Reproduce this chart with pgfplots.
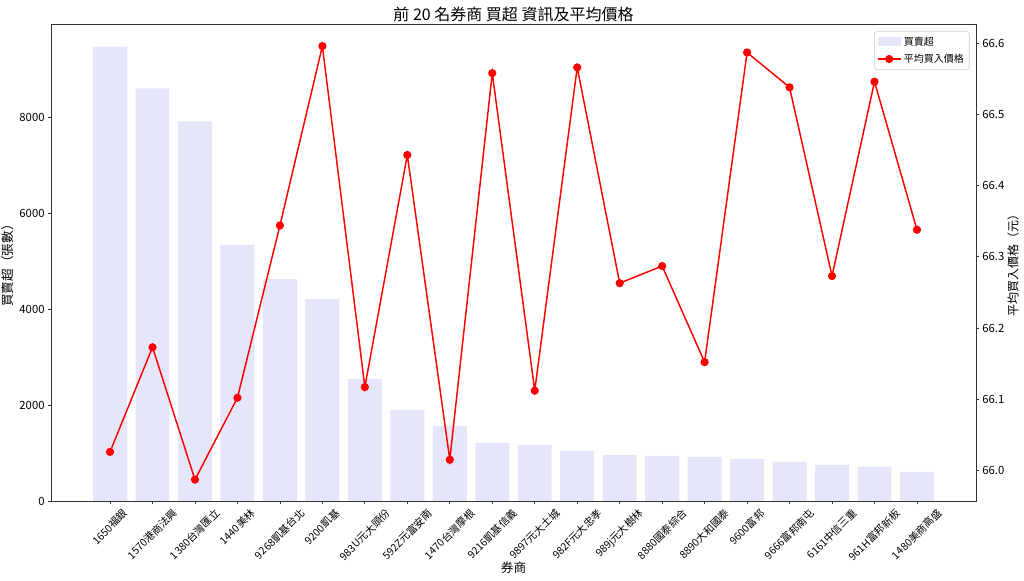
\documentclass[border=0pt]{standalone}
\usepackage{fontspec}
\setmainfont{Noto Sans CJK TC}
\usepackage{graphicx}
\usepackage{pgfplots}
\usepackage{pgfplotstable}
\pgfplotsset{compat=1.18}
\definecolor{lav}{RGB}{230,230,250}

\pgfplotstableread{
x bar price
0 9480 66.026
1 8610 66.173
2 7923 65.987
3 5344 66.102
4 4631 66.344
5 4215 66.596
6 2548 66.117
7 1902 66.443
8 1569 66.015
9 1215 66.558
10 1173 66.112
11 1048 66.566
12 965 66.263
13 944 66.287
14 923 66.152
15 881 66.587
16 819 66.538
17 756 66.273
18 715 66.546
19 610 66.338
}\data

\newcommand{\rl}[1]{\rotatebox{45}{#1}}

\begin{document}
\begin{tikzpicture}
\useasboundingbox (-38.25pt,-60pt) rectangle (729.75pt,375.75pt);
\begin{axis}[
  at={(0,0)}, anchor=south west,
  scale only axis, width=693.75pt, height=357.75pt,
  xmin=-1.39, xmax=20.39, ymin=0, ymax=9954,
  xtick={0,...,19},
  xticklabels={\rl{1650福銀},\rl{1570港商法興},\rl{1380台灣匯立},\rl{1440美林},\rl{9268凱基台北},\rl{9200凱基},\rl{983U元大頭份},\rl{592Z元富安南},\rl{1470台灣摩根},\rl{9216凱基信義},\rl{9897元大土城},\rl{982F元大忠孝},\rl{989j元大樹林},\rl{8880國泰綜合},\rl{8890大和國泰},\rl{9600富邦},\rl{9666富邦南屯},\rl{6161中信三重},\rl{961H富邦新板},\rl{1480美商高盛}},
  xtick pos=left, ytick pos=left,
  ytick={0,2000,4000,6000,8000},
  tick align=outside, major tick length=2.6pt,
  axis line style={draw=black!80, line width=0.6pt},
  tick style={draw=black!80, line width=0.6pt},
  tick label style={font=\fontsize{8.5}{10}\selectfont},
  /pgf/number format/assume math mode=true,
  /pgf/number format/1000 sep={},
  scaled y ticks=false,
  xticklabel style={anchor=north, inner sep=2.5pt, font=\fontsize{7.8}{9}\selectfont},
  yticklabel style={inner sep=2pt},
  xlabel={券商},
  xlabel style={at={(axis description cs:0.5,-0.1405)}, anchor=center, font=\fontsize{9.5}{11}\selectfont},
  ylabel={買賣超（張數）},
  ylabel style={at={(axis description cs:-0.0465,0.5)}, anchor=center, rotate=0, font=\fontsize{9.5}{11}\selectfont},
  title={前 20 名券商 買超 資訊及平均價格},
  title style={at={(axis description cs:0.5,1.021)}, anchor=center, yshift=-6pt, font=\fontsize{12}{14}\selectfont},
]
\addplot[ybar, bar width=0.8, fill=lav, draw=none] table[x=x,y=bar]{\data};
\end{axis}
\begin{axis}[
  at={(0,0)}, anchor=south west,
  scale only axis, width=693.75pt, height=357.75pt,
  xmin=-1.39, xmax=20.39, ymin=65.957, ymax=66.627,
  axis x line=none, axis y line*=right,
  ytick={66.0,66.1,66.2,66.3,66.4,66.5,66.6},
  ytick pos=right,
  tick align=outside, major tick length=2.6pt,
  axis line style={draw=black!80, line width=0.6pt},
  tick style={draw=black!80, line width=0.6pt},
  tick label style={font=\fontsize{8.5}{10}\selectfont},
  /pgf/number format/assume math mode=true,
  yticklabel style={/pgf/number format/fixed, /pgf/number format/precision=1, /pgf/number format/fixed zerofill, inner sep=2pt},
  scaled y ticks=false,
  ylabel={平均買入價格（元）},
  ylabel style={at={(axis description cs:1.04,0.5)}, anchor=center, rotate=0, font=\fontsize{9}{11}\selectfont},
  legend style={at={(axis description cs:0.993,0.985)}, anchor=north east, draw=black!20, rounded corners=2pt, font=\fontsize{7.5}{9}\selectfont, inner sep=2pt, row sep=1pt},
  legend cell align=left,
]
\addlegendimage{legend image code/.code={\fill[lav, sharp corners] (0cm,-0.1cm) rectangle (0.6cm,0.12cm);}}
\addlegendentry{買賣超}
\addplot[red, line width=1.1pt, mark=*, mark size=2.5pt, mark options={fill=red, draw=red}] table[x=x,y=price]{\data};
\addlegendentry{平均買入價格}
\end{axis}
\end{tikzpicture}
\end{document}
